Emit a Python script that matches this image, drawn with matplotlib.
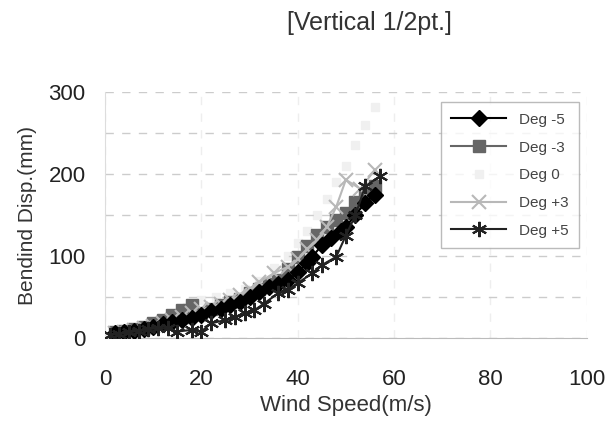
import numpy as np
import matplotlib.pyplot as plt

plt.rcParams['font.family'] = ['Liberation Sans', 'DejaVu Sans']

# wind speed (m/s) and bending displacement (mm) per yaw angle
x_m5 = [2, 4, 6, 8, 10, 12, 14, 16, 18, 20, 22, 24, 26, 28, 30, 32, 34, 36, 38, 40, 42, 43, 45, 47, 49, 50, 52, 54, 56]
y_m5 = [6, 7, 9, 11, 14, 17, 20, 22, 25, 28, 33, 36, 40, 44, 50, 56, 62, 66, 71, 80, 92, 99, 113, 122, 130, 136, 150, 165, 175]

x_m3 = [2, 4, 6, 8, 10, 12, 14, 16, 18, 20, 22, 24, 26, 28, 30, 32, 34, 36, 38, 40, 42, 44, 46, 48, 50, 52, 54, 56]
y_m3 = [7, 9, 11, 14, 18, 22, 28, 34, 40, 30, 36, 40, 44, 48, 55, 60, 66, 71, 84, 99, 112, 126, 136, 144, 152, 166, 176, 185]

x_0 = [2, 5, 8, 11, 14, 17, 20, 23, 26, 29, 32, 35, 38, 40, 42, 44, 46, 48, 50, 52, 54, 56]
y_0 = [8, 11, 15, 20, 28, 38, 46, 50, 55, 60, 70, 85, 100, 116, 130, 150, 170, 190, 210, 235, 260, 282]

x_p3 = [2, 4, 6, 8, 10, 12, 14, 16, 18, 20, 22, 24, 26, 28, 30, 32, 35, 38, 40, 42, 44, 46, 48, 50, 53, 56]
y_p3 = [6, 8, 10, 12, 15, 18, 22, 26, 30, 35, 38, 42, 46, 52, 60, 68, 79, 87, 96, 108, 120, 135, 160, 193, 182, 205]

x_p5 = [1, 3, 5, 7, 9, 11, 13, 15, 18, 20, 22, 25, 27, 29, 31, 33, 36, 38, 40, 43, 45, 48, 50, 52, 54, 57]
y_p5 = [4, 5, 7, 9, 11, 12, 12, 8, 10, 8, 18, 22, 26, 30, 34, 42, 55, 59, 67, 79, 89, 99, 125, 150, 185, 197]

fig = plt.figure(figsize=(6.12, 4.34), dpi=100)
ax = fig.add_axes([0.1716, 0.221, 0.787, 0.567])

ax.plot(x_m5, y_m5, color='black', marker='D', ms=8, lw=1.5, label='Deg -5', zorder=3)
ax.plot(x_m3, y_m3, color='#666666', marker='s', ms=8, lw=1.5, label='Deg -3', zorder=2)
ax.plot(x_0, y_0, color='#f0f0f0', marker='s', ms=6, lw=0, label='Deg 0', zorder=1)
ax.plot(x_p3, y_p3, color='#b8b8b8', marker='x', ms=10, mew=1.5, lw=1.5, label='Deg +3', zorder=2)
ax.plot(x_p5, y_p5, color='#222222', marker=(6, 2, 0), ms=11, mew=1.5, lw=1.5, label='Deg +5', zorder=4)

ax.set_xlim(0, 100)
ax.set_ylim(0, 300)
ax.set_xticks(np.arange(0, 101, 20))
ax.set_yticks(np.arange(0, 301, 100))
ax.set_yticks(np.arange(0, 301, 50), minor=True)
ax.grid(which='both', axis='y', ls=(0, (6, 6)), color='#cccccc', lw=1)
ax.grid(which='major', axis='x', ls=(0, (6, 6)), color='#eeeeee', lw=1)
ax.tick_params(which='both', length=0, labelsize=16, colors='#222222')
ax.tick_params(axis='x', pad=22)
ax.tick_params(axis='y', pad=14)
for s in ['top', 'right']:
    ax.spines[s].set_visible(False)
ax.spines['left'].set_color('#dddddd')
ax.spines['bottom'].set_color('#bbbbbb')

ax.set_xlabel('Wind Speed(m/s)', fontsize=16, color='#333333', labelpad=4)
ax.set_ylabel('Bendind Disp.(mm)', fontsize=15, color='#333333', labelpad=8)
fig.text(0.603, 0.948, '[Vertical 1/2pt.]', fontsize=18, ha='center', va='center', color='#333333')

leg = ax.legend(loc='upper right', bbox_to_anchor=(1.0, 0.99), fontsize=11, frameon=True,
                fancybox=False, edgecolor='#aaaaaa', labelcolor='#444444',
                handlelength=3.6, borderpad=0.7, labelspacing=0.9)
leg.get_frame().set_linewidth(1)

fig.savefig('out.png', dpi=100)
